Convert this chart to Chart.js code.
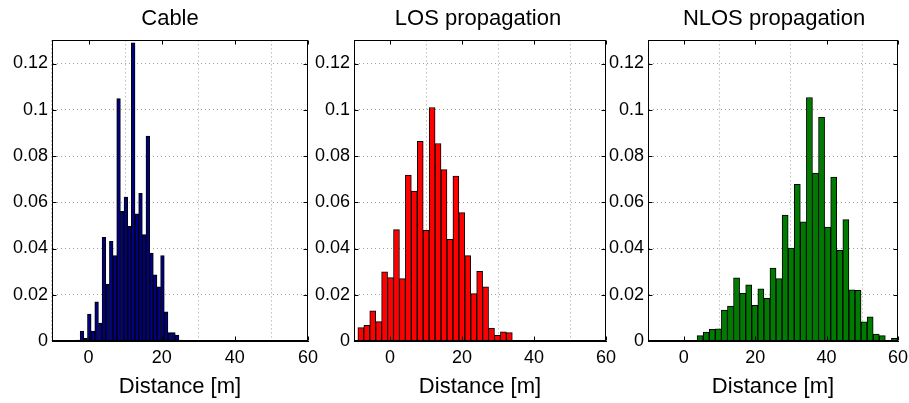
<!DOCTYPE html>
<html>
<head>
<meta charset="utf-8">
<script src="https://cdn.jsdelivr.net/npm/chart.js@4/dist/chart.umd.min.js"></script>
<style>
  html, body { margin: 0; padding: 0; background: #fff; overflow: hidden; }
  body { position: relative; width: 909px; height: 403px; }
  canvas { position: absolute; top: 0; }
</style>
</head>
<body>
<canvas id="c1" width="340" height="403" style="left:0px"></canvas>
<canvas id="c2" width="338" height="403" style="left:300px"></canvas>
<canvas id="c3" width="330" height="403" style="left:600px"></canvas>
<script>
// histogram bin centres [m] and relative frequencies
const cableCenters = [-5.8, -4.8, -3.8, -2.8, -1.8, -0.8, 0.2, 1.2, 2.2, 3.2, 4.2, 5.2, 6.2, 7.2, 8.2, 9.2,
    10.2, 11.2, 12.2, 13.2, 14.2, 15.2, 16.2, 17.2, 18.2, 19.2, 20.2, 21.2, 22.2, 23.2, 24.2, 25.2];
const cableValues = [0.0002, 0.0003, 0.0003, 0.0004, 0.0043, 0.0012, 0.0116, 0.0043, 0.0169, 0.0077, 0.0448, 0.0246, 0.0431, 0.0369, 0.1048, 0.0561,
    0.0622, 0.0496, 0.129, 0.055, 0.0639, 0.046, 0.0886, 0.038, 0.0286, 0.0234, 0.0369, 0.0126, 0.0036, 0.0036, 0.0026, 0.0004];

const losCenters = [-8.1, -6.45, -4.8, -3.15, -1.5, 0.15, 1.8, 3.45, 5.1, 6.75, 8.4, 10.05, 11.7,
    13.35, 15.0, 16.65, 18.3, 19.95, 21.6, 23.25, 24.9, 26.55, 28.2, 29.85, 31.5, 33.15];
const losValues = [0.0058, 0.0068, 0.013, 0.0084, 0.0299, 0.0274, 0.0482, 0.027, 0.0718, 0.0648, 0.0863, 0.0479, 0.101,
    0.0854, 0.0741, 0.044, 0.0713, 0.0555, 0.0369, 0.0205, 0.0301, 0.0234, 0.0055, 0.0025, 0.004, 0.0036];

const nlosCenters = [4.6, 6.3, 8.0, 9.7, 11.4, 13.1, 14.8, 16.5, 18.2, 19.9, 21.6, 23.3, 25.0, 26.7, 28.4, 30.1, 31.8,
    33.5, 35.2, 36.9, 38.6, 40.3, 42.0, 43.7, 45.4, 47.1, 48.8, 50.5, 52.2, 53.9, 55.6, 57.3, 59.0];
const nlosValues = [0.0023, 0.0039, 0.005, 0.0053, 0.0134, 0.0151, 0.0273, 0.0206, 0.0243, 0.0154, 0.0226, 0.0184, 0.0315, 0.027, 0.0545, 0.0402, 0.0678,
    0.0515, 0.1053, 0.0726, 0.0967, 0.0493, 0.0709, 0.0392, 0.0525, 0.0221, 0.0219, 0.0083, 0.0105, 0.003, 0.0023, 0, 0.0012];

const xTicks = [0, 20, 40, 60];
const yTicks = [0, 0.02, 0.04, 0.06, 0.08, 0.1, 0.12];
const yTickLabels = ['0', '0.02', '0.04', '0.06', '0.08', '0.1', '0.12'];
const titles = ['Cable', 'LOS propagation', 'NLOS propagation'];
const xLabel = 'Distance [m]';

const FONT = "'Liberation Sans', Arial, Helvetica, sans-serif";

// matlab style box with inward ticks on all four sides
const boxPlugin = {
    id: 'box',
    afterLayout(chart, args, opts) {
        // move the title so its centre sits where the original has it
        const tb = chart.titleBlock;
        if (tb && opts.titleCenter !== undefined) {
            const dx = opts.titleCenter - (tb.left + tb.right) / 2;
            tb.left += dx;
            tb.right += dx;
        }
    },
    afterDatasetsDraw(chart) {
        const ctx = chart.ctx, a = chart.chartArea;
        const x = chart.scales.x, y = chart.scales.y;
        const L = Math.round(a.left) + 0.5, R = Math.round(a.right) - 0.5;
        const T = Math.round(a.top) + 0.5, B = Math.round(a.bottom) - 0.5;
        ctx.save();
        ctx.strokeStyle = '#000';
        ctx.lineWidth = 1;
        ctx.beginPath();
        xTicks.forEach(v => {
            const px = Math.round(x.getPixelForValue(v)) + 0.5;
            ctx.moveTo(px, B); ctx.lineTo(px, B - 4);
            ctx.moveTo(px, T); ctx.lineTo(px, T + 4);
        });
        yTicks.forEach(v => {
            const py = Math.round(y.getPixelForValue(v)) + 0.5;
            ctx.moveTo(L, py); ctx.lineTo(L + 4, py);
            ctx.moveTo(R, py); ctx.lineTo(R - 4, py);
        });
        ctx.stroke();
        ctx.strokeRect(L, T, R - L, B - T);
        ctx.restore();
    }
};

function panel(id, title, centers, values, color, lay) {
    const pts = centers.map((c, i) => ({x: c, y: values[i]}));
    new Chart(document.getElementById(id), {
        type: 'bar',
        data: {
            datasets: [{
                data: pts,
                backgroundColor: color,
                borderColor: '#000',
                borderWidth: 1,
                barPercentage: 1,
                categoryPercentage: 1
            }]
        },
        options: {
            responsive: false,
            animation: false,
            events: [],
            layout: {padding: {left: 0, right: lay.padR, top: 0, bottom: 0}},
            plugins: {
                legend: {display: false},
                tooltip: {enabled: false},
                box: {titleCenter: lay.titleX},
                title: {
                    display: true,
                    text: title,
                    color: '#000',
                    font: {family: FONT, size: 22, weight: 'normal'},
                    padding: {top: 6, bottom: 8}
                }
            },
            scales: {
                x: {
                    type: 'linear',
                    min: -10,
                    max: 60,
                    offset: false,
                    afterBuildTicks: s => { s.ticks = xTicks.map(v => ({value: v})); },
                    afterFit: s => { s.height = 62; },
                    grid: {color: '#a0a0a0', drawTicks: false, lineWidth: 1},
                    border: {color: '#000', dash: [1, 3]},
                    ticks: {
                        color: '#000',
                        font: {family: FONT, size: 18},
                        padding: 6,
                        maxRotation: 0,
                        autoSkip: false,
                        callback: v => String(v)
                    },
                    title: {
                        display: true,
                        text: xLabel,
                        color: '#000',
                        font: {family: FONT, size: 22},
                        padding: {top: 0, bottom: 3}
                    }
                },
                y: {
                    min: 0,
                    max: 0.13,
                    afterBuildTicks: s => { s.ticks = yTicks.map(v => ({value: v})); },
                    afterFit: s => { s.width = lay.yW; },
                    grid: {color: '#a0a0a0', drawTicks: false, lineWidth: 1},
                    border: {color: '#000', dash: [1, 3]},
                    ticks: {
                        color: '#000',
                        font: {family: FONT, size: 18},
                        padding: 4,
                        autoSkip: false,
                        callback: v => yTickLabels[yTicks.indexOf(v)] ?? ''
                    }
                }
            }
        },
        plugins: [boxPlugin]
    });
}

panel('c1', titles[0], cableCenters, cableValues, '#000080', {yW: 52, padR: 32, titleX: 170});
panel('c2', titles[1], losCenters, losValues, '#ff0000', {yW: 54, padR: 32, titleX: 178});
panel('c3', titles[2], nlosCenters, nlosValues, '#007a00', {yW: 48, padR: 32, titleX: 174});
</script>
</body>
</html>
